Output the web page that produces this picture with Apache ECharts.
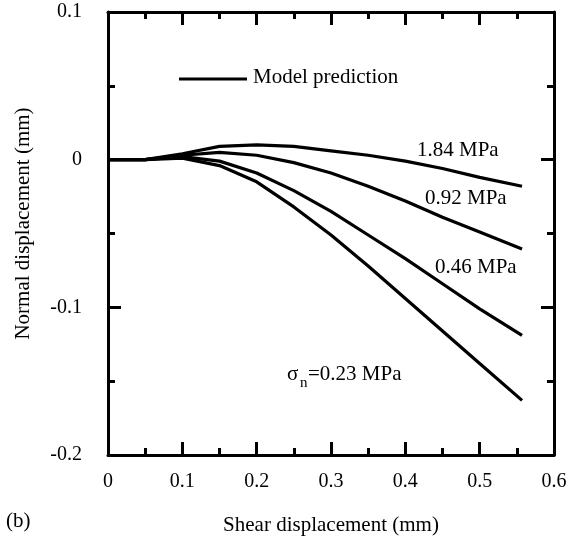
<!DOCTYPE html>
<html>
<head>
<meta charset="utf-8">
<script src="https://cdn.jsdelivr.net/npm/echarts@6/dist/echarts.min.js"></script>
<style>
html,body{margin:0;padding:0;background:#fff;}
#chart{width:574px;height:536px;}
</style>
</head>
<body>
<div id="chart"></div>
<script>
const shearX = [0, 0.05, 0.1, 0.15, 0.2, 0.25, 0.3, 0.35, 0.4, 0.45, 0.5, 0.557];
const y184 = [0, 0, 0.004, 0.009, 0.010, 0.009, 0.006, 0.003, -0.001, -0.006, -0.012, -0.018];
const y092 = [0, 0, 0.003, 0.005, 0.003, -0.002, -0.009, -0.018, -0.028, -0.039, -0.049, -0.0605];
const y046 = [0, 0, 0.002, -0.001, -0.009, -0.021, -0.035, -0.051, -0.067, -0.084, -0.101, -0.119];
const y023 = [0, 0, 0.001, -0.004, -0.015, -0.032, -0.051, -0.072, -0.094, -0.116, -0.138, -0.163];
const seriesNames = ['1.84 MPa', '0.92 MPa', '0.46 MPa', '0.23 MPa'];
const seriesValues = [y184, y092, y046, y023];

const FONT = '"Liberation Serif", "Times New Roman", serif';
const chart = echarts.init(document.getElementById('chart'), null, {renderer: 'canvas'});

function axisCommon(showLabel) {
  return {
    axisLine: {show: true, onZero: false, lineStyle: {color: '#000', width: 3}},
    axisTick: {show: true, inside: true, length: 13, lineStyle: {color: '#000', width: 3}},
    minorTick: {show: true, splitNumber: 2, length: 7, lineStyle: {color: '#000', width: 3}},
    splitLine: {show: false},
    axisLabel: {show: showLabel, color: '#000', fontFamily: FONT, fontSize: 20}
  };
}

const xBottom = Object.assign(axisCommon(true), {
  type: 'value', position: 'bottom', min: 0, max: 0.6, interval: 0.1,
  name: 'Shear displacement (mm)', nameLocation: 'middle', nameGap: 60,
  nameTextStyle: {color: '#000', fontFamily: FONT, fontSize: 21}
});
xBottom.axisLabel.margin = 17;
xBottom.axisLabel.formatter = v => (Math.round(v * 10) / 10).toString();

const xTop = Object.assign(axisCommon(false), {
  type: 'value', position: 'top', min: 0, max: 0.6, interval: 0.1
});

const yLeft = Object.assign(axisCommon(true), {
  type: 'value', position: 'left', min: -0.2, max: 0.1, interval: 0.1,
  name: 'Normal displacement (mm)', nameLocation: 'middle', nameGap: 74,
  nameTextStyle: {color: '#000', fontFamily: FONT, fontSize: 21, padding: [0, 0, 0, 20]}
});
yLeft.axisLabel.margin = 26;
yLeft.axisLabel.formatter = v => (Math.round(v * 10) / 10).toString();

const yRight = Object.assign(axisCommon(false), {
  type: 'value', position: 'right', min: -0.2, max: 0.1, interval: 0.1
});

const series = seriesValues.map((vals, i) => ({
  name: seriesNames[i],
  type: 'line',
  xAxisIndex: 0, yAxisIndex: 0,
  data: shearX.map((x, j) => [x, vals[j]]),
  showSymbol: false,
  smooth: false,
  lineStyle: {color: '#000', width: 3.2},
  z: 3,
  animation: false
}));

const txt = (x, y, s, size, align) => ({
  type: 'text', left: x, top: y,
  style: {text: s, fill: '#000', font: size + 'px ' + FONT, textAlign: align || 'left'}
});

chart.setOption({
  animation: false,
  backgroundColor: '#fff',
  grid: {left: 108, right: 20, top: 12, bottom: 81, containLabel: false, outerBoundsMode: 'none'},
  xAxis: [xBottom, xTop],
  yAxis: [yLeft, yRight],
  series: series,
  graphic: [
    {type: 'line', shape: {x1: 179, y1: 79, x2: 247, y2: 79}, style: {stroke: '#000', lineWidth: 3}},
    txt(253, 67, 'Model prediction', 21),
    txt(417, 140, '1.84 MPa', 21),
    txt(425, 188, '0.92 MPa', 21),
    txt(435, 257, '0.46 MPa', 21),
    txt(287, 364, 'σ', 21),
    txt(300, 376, 'n', 15),
    txt(308, 364, '=0.23 MPa', 21),
    txt(6, 511, '(b)', 21)
  ]
});
</script>
</body>
</html>
